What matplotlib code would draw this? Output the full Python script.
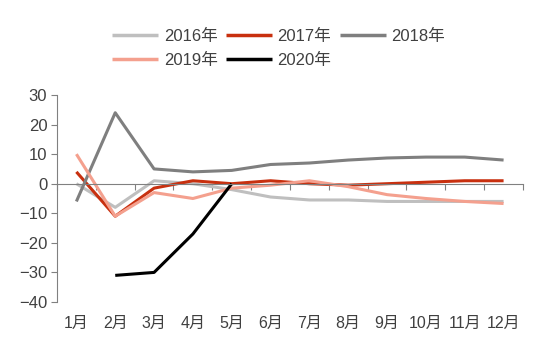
import numpy as np
import matplotlib
matplotlib.use("Agg")
import matplotlib.pyplot as plt
import matplotlib.transforms as mtrans

plt.rcParams['font.family'] = ['Liberation Sans', 'Noto Sans CJK SC', 'DejaVu Sans']

months = ['1月', '2月', '3月', '4月', '5月', '6月', '7月', '8月', '9月', '10月', '11月', '12月']
y2016 = [0, -8, 1, 0, -2, -4.5, -5.5, -5.5, -6, -6, -6, -6]
y2017 = [4, -11, -1.5, 1, 0, 1, 0, -0.5, 0, 0.5, 1, 1]
y2018 = [-6, 24, 5, 4, 4.5, 6.5, 7, 8, 8.7, 9, 9, 8]
y2019 = [10, -11, -3, -5, -1.5, -0.5, 1, -1, -3.7, -5, -6, -6.7]
y2020 = [None, -31, -30, -17, 0]

series = [('2016年', y2016, '#BFBFBF'),
          ('2017年', y2017, '#C8300F'),
          ('2018年', y2018, '#7F7F7F'),
          ('2019年', y2019, '#F4A08E'),
          ('2020年', y2020, '#000000')]

fig = plt.figure(figsize=(5.5, 3.53), dpi=100)
ax = fig.add_axes([0.1036, 0.1445, 0.8473, 0.5864])

x = np.arange(1, 13)
handles = []
for name, vals, col in series:
    v = np.array([np.nan if a is None else a for a in vals], dtype=float)
    h, = ax.plot(x[:len(v)], v, color=col, linewidth=2.2, label=name, solid_capstyle='butt')
    handles.append(h)

ax.set_xlim(0.5, 12.5)
ax.set_ylim(-40, 30)
ax.set_yticks(range(-40, 31, 10))
ax.tick_params(axis='y', direction='out', length=4, color='#808080', labelsize=12, labelcolor='#404040', pad=3)

# x axis sits at zero, ticks between categories
ax.spines['bottom'].set_position(('data', 0))
ax.spines['bottom'].set_color('#808080')
ax.spines['left'].set_color('#808080')
ax.spines['top'].set_visible(False)
ax.spines['right'].set_visible(False)
ax.set_xticks(np.arange(0.5, 12.6, 1))
ax.set_xticklabels([])
ax.tick_params(axis='x', direction='out', length=4, color='#808080')

trans = mtrans.blended_transform_factory(ax.transData, ax.transAxes)
for i, m in enumerate(months):
    ax.text(i + 1, -0.065, m, transform=trans, ha='center', va='top', fontsize=11.5, color='#404040')

# row-wise legend order
order = [0, 3, 1, 4, 2]
leg = fig.legend([handles[i] for i in order], [series[i][0] for i in order],
                 loc='upper left', bbox_to_anchor=(0.2036, 0.918), ncol=3, frameon=False,
                 borderpad=0, borderaxespad=0,
                 fontsize=12, handlelength=2.75, handletextpad=0.35, columnspacing=0.5,
                 labelspacing=0.55, labelcolor='#404040')
for line in leg.get_lines():
    line.set_linewidth(2.5)

fig.savefig('out.png', dpi=100)
